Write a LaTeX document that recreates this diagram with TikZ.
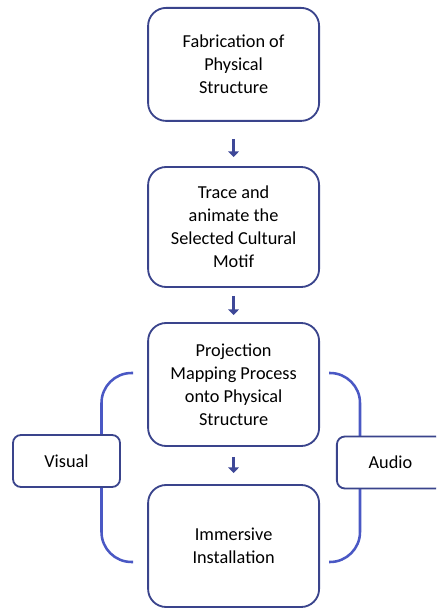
\documentclass[tikz,border=0pt]{standalone}
\usepackage{fontspec}
\setmainfont{Carlito}
\usepackage{xcolor}
\usetikzlibrary{arrows.meta, positioning}
\definecolor{boxline}{RGB}{58,68,140}
\definecolor{bracketline}{RGB}{74,88,196}
\definecolor{arrowfill}{RGB}{62,72,152}

\begin{document}
\begin{tikzpicture}[
  stage/.style={
    draw=boxline,
    line width=1.3pt,
    rounded corners=0.45cm,
    fill=white,
    minimum width=4.275cm,
    minimum height=3cm,
    align=center,
    font=\fontsize{13}{16.4}\selectfont
  },
  channel/.style={
    draw=boxline,
    line width=1.3pt,
    rounded corners=0.2cm,
    fill=white,
    minimum width=2.675cm,
    minimum height=1.3cm,
    align=center,
    font=\fontsize{13}{16.4}\selectfont
  },
  arrow/.style={-{Triangle[length=1.4mm,width=2.6mm]}, line width=2pt, draw=arrowfill},
  bracket/.style={line width=1.8pt, draw=bracketline, rounded corners=0.75cm}
]
  \useasboundingbox (0,0) rectangle (10.9,15.2);
  \clip (0,0) rectangle (10.9,15.2);

  \node[stage, minimum height=2.825cm] (fab) at (5.84,13.59) {Fabrication of\\Physical\\Structure};
  \node[stage] (trace) at (5.84,9.525) {Trace and\\animate the\\Selected Cultural\\Motif};
  \node[stage, minimum height=3.075cm] (proj) at (5.84,5.5875) {Projection\\Mapping Process\\onto Physical\\Structure};
  \node[stage, minimum height=3.05cm] (install) at (5.84,1.55) {Immersive\\Installation};

  \draw[arrow, shorten <=0.425cm, shorten >=0.225cm] (fab) -- (trace);
  \draw[arrow, shorten <=0.2cm, shorten >=0.175cm] (trace) -- (proj);
  \draw[arrow, shorten <=0.25cm, shorten >=0.275cm] (proj) -- (install);

  \coordinate (vis-top) at (3.325,5.875);
  \coordinate (vis-bot) at (3.325,1.15);
  \coordinate (aud-top) at (8.225,5.875);
  \coordinate (aud-bot) at (8.225,1.15);
  \draw[bracket] (vis-top) -| (2.5375,3.5) |- (vis-bot);
  \draw[bracket] (aud-top) -| (9.0,3.5) |- (aud-bot);

  \node[channel] (visual) at (1.6625,3.675) {Visual};
  \node[channel] (audio) at (9.76,3.6375) {Audio};
\end{tikzpicture}
\end{document}
